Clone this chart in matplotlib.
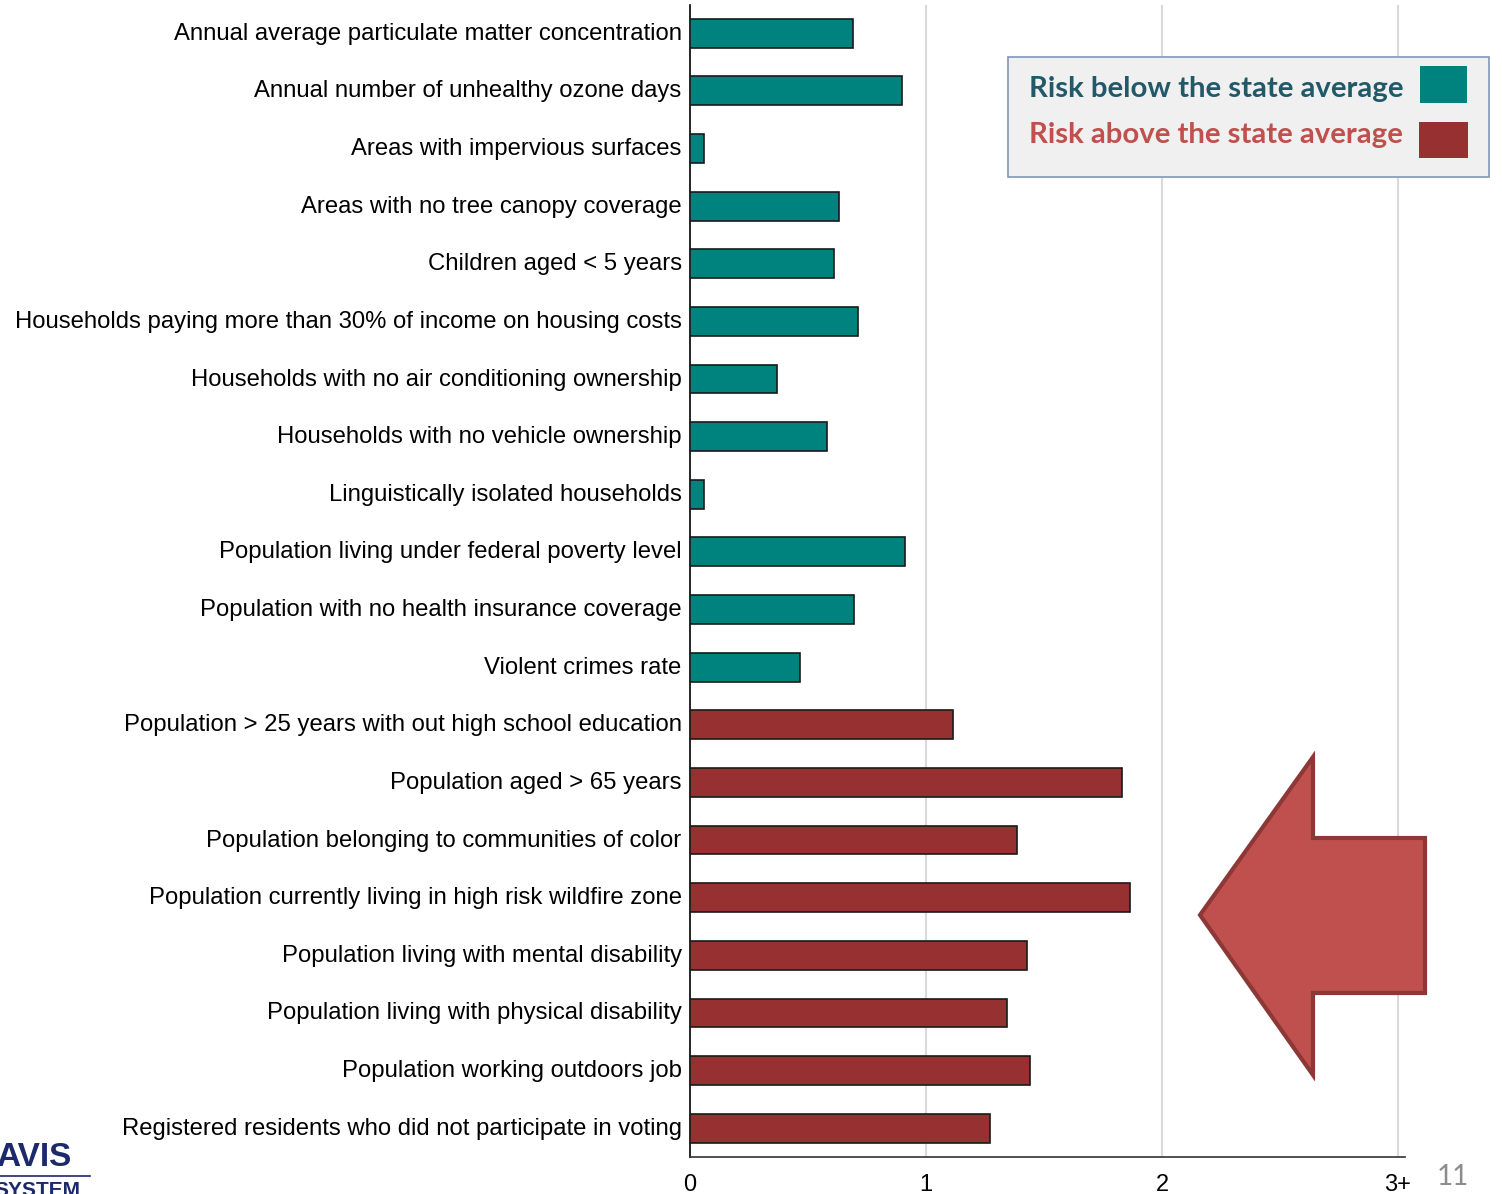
import matplotlib.pyplot as plt
import matplotlib.transforms as mtransforms
from matplotlib.patches import Polygon, Rectangle
import numpy as np

# indicator names, relative risk score vs. state average, and group
indicadores = [
    'Annual average particulate matter concentration',
    'Annual number of unhealthy ozone days',
    'Areas with impervious surfaces',
    'Areas with no tree canopy coverage',
    'Children aged < 5 years',
    'Households paying more than 30% of income on housing costs',
    'Households with no air conditioning ownership',
    'Households with no vehicle ownership',
    'Linguistically isolated households',
    'Population living under federal poverty level',
    'Population with no health insurance coverage',
    'Violent crimes rate',
    'Population > 25 years with out high school education',
    'Population aged > 65 years',
    'Population belonging to communities of color',
    'Population currently living in high risk wildfire zone',
    'Population living with mental disability',
    'Population living with physical disability',
    'Population working outdoors job',
    'Registered residents who did not participate in voting',
]
valores = [0.69, 0.90, 0.06, 0.63, 0.61, 0.71, 0.37, 0.58, 0.06, 0.91,
           0.695, 0.465, 1.115, 1.83, 1.385, 1.865, 1.43, 1.345, 1.44, 1.27]
grupo = ['below'] * 12 + ['above'] * 8

x_ticks = [0, 1, 2, 3]
x_labels = ['0', '1', '2', '3+']

TEAL = '#00827F'
RED = '#973030'
cores = {'below': TEAL, 'above': RED}

W, H = 1502, 1194
fig = plt.figure(figsize=(W / 100, H / 100), dpi=100)
ax = fig.add_axes([690 / W, 1 - 1157 / H, (1405 - 690) / W, (1157 - 5) / H])

y = np.arange(len(indicadores))
ax.barh(y, valores, height=0.5, color=[cores[g] for g in grupo],
        edgecolor='#1a1a1a', linewidth=1.2, zorder=3)

ax.set_xlim(0, 3.03)
ax.set_ylim(len(indicadores) - 0.5, -0.49)
ax.set_yticks(y)
ax.set_yticklabels(indicadores, fontsize=17.2, family='Liberation Sans')
ax.set_xticks(x_ticks)
ax.set_xticklabels(x_labels, fontsize=17, family='Liberation Sans')
ax.tick_params(axis='both', length=0)
ax.tick_params(axis='x', pad=12)
ax.tick_params(axis='y', pad=6)
# nudge category labels up a little
subir = mtransforms.ScaledTranslation(0, 2 / 100, fig.dpi_scale_trans)
for lbl in ax.get_yticklabels():
    lbl.set_transform(lbl.get_transform() + subir)

for v in x_ticks[1:]:
    ax.axvline(v, color='#d9d9d9', linewidth=1.5, zorder=1)

for s in ['top', 'right']:
    ax.spines[s].set_visible(False)
ax.spines['left'].set_color('#000000')
ax.spines['left'].set_linewidth(1.2)
ax.spines['bottom'].set_color('#333333')
ax.spines['bottom'].set_linewidth(1.2)


def px(xp, yp):
    return (xp / W, 1 - yp / H)


# legend box
lx0, ly0 = px(1008, 177)
lx1, ly1 = px(1489, 57)
fig.patches.append(Rectangle((lx0, ly0), lx1 - lx0, ly1 - ly0,
                             transform=fig.transFigure, facecolor='#f0f0f0',
                             edgecolor='#8096b8', linewidth=1.2, zorder=5))
sx, sy = px(1420, 103)
fig.patches.append(Rectangle((sx, sy), 47 / W, 37 / H, transform=fig.transFigure,
                             facecolor=TEAL, edgecolor='none', zorder=6))
sx, sy = px(1419, 158)
fig.patches.append(Rectangle((sx, sy), 49 / W, 36 / H, transform=fig.transFigure,
                             facecolor=RED, edgecolor='none', zorder=6))
fig.text(*px(1029, 89), 'Risk below the state average', color='#215968',
         fontsize=21.2, fontweight='bold', family='Lato', va='center', zorder=7)
fig.text(*px(1029, 135), 'Risk above the state average', color='#c0504d',
         fontsize=21.2, fontweight='bold', family='Lato', va='center', zorder=7)

# big arrow pointing at the above-average bars
seta = [(1200, 915), (1313, 757), (1313, 838), (1425, 838), (1425, 993),
        (1313, 993), (1313, 1075)]
fig.patches.append(Polygon([px(a, b) for a, b in seta], closed=True,
                           transform=fig.transFigure, facecolor='#c0504d',
                           edgecolor='#8c3836', linewidth=3, zorder=6))

# page number and logo fragment
fig.text(*px(1437, 1177), '11', color='#8c8c8c', fontsize=20, family='Lato',
         va='center')
fig.text(*px(-4, 1158), 'AVIS', color='#1b2a6b', fontsize=24, fontweight='heavy',
         family='Liberation Sans', va='center')
fig.lines.append(plt.Line2D([0, 90 / W], [1 - 1176 / H] * 2, transform=fig.transFigure,
                            color='#1b2a6b', linewidth=1.2))
fig.text(*px(-6, 1191), 'SYSTEM', color='#1b2a6b', fontsize=15, fontweight='bold',
         family='Liberation Sans', va='center')

fig.savefig('out.png', dpi=100)
